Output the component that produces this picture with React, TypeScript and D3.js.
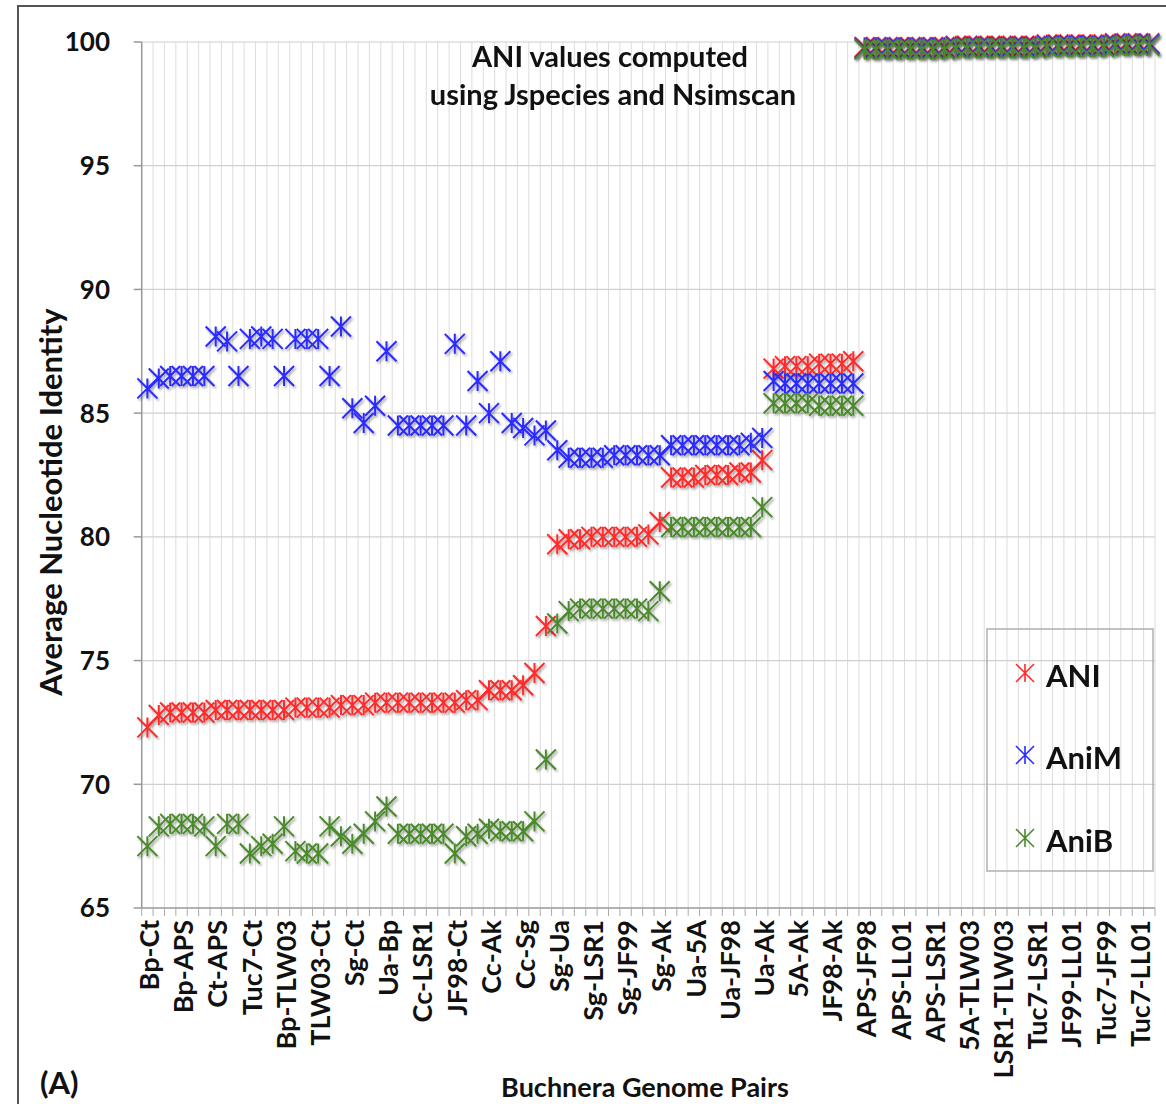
import React from 'react';
import * as d3 from 'd3';

// ---------- data ----------
const tickLabels = [
  'Bp-Ct', 'Bp-APS', 'Ct-APS', 'Tuc7-Ct', 'Bp-TLW03', 'TLW03-Ct', 'Sg-Ct', 'Ua-Bp',
  'Cc-LSR1', 'JF98-Ct', 'Cc-Ak', 'Cc-Sg', 'Sg-Ua', 'Sg-LSR1', 'Sg-JF99', 'Sg-Ak',
  'Ua-5A', 'Ua-JF98', 'Ua-Ak', '5A-Ak', 'JF98-Ak', 'APS-JF98', 'APS-LL01', 'APS-LSR1',
  '5A-TLW03', 'LSR1-TLW03', 'Tuc7-LSR1', 'JF99-LL01', 'Tuc7-JF99', 'Tuc7-LL01',
];
const labelEvery = 3;

const aniValues = [
  72.3, 72.8, 72.9, 72.9, 72.9, 72.9, 73.0, 73.0, 73.0, 73.0,
  73.0, 73.0, 73.0, 73.1, 73.1, 73.1, 73.1, 73.2, 73.2, 73.2,
  73.3, 73.3, 73.3, 73.3, 73.3, 73.3, 73.3, 73.3, 73.4, 73.4,
  73.8, 73.8, 73.8, 74.0, 74.5, 76.4, 79.7, 79.9, 79.9, 80.0,
  80.0, 80.0, 80.0, 80.0, 80.1, 80.6, 82.4, 82.4, 82.4, 82.5,
  82.5, 82.5, 82.6, 82.6, 83.1, 86.8, 86.9, 86.9, 86.9, 87.0,
  87.0, 87.0, 87.1,
  99.8, 99.8, 99.8, 99.8, 99.8, 99.8, 99.8, 99.8, 99.85, 99.85,
  99.85, 99.85, 99.85, 99.85, 99.85, 99.85, 99.9, 99.9, 99.9, 99.9,
  99.9, 99.9, 99.95, 99.95, 99.95, 99.95,
];

const animValues = [
  86.0, 86.4, 86.5, 86.5, 86.5, 86.5, 88.1, 87.9, 86.5, 88.0,
  88.1, 88.0, 86.5, 88.0, 88.0, 88.0, 86.5, 88.5, 85.2, 84.6,
  85.3, 87.5, 84.5, 84.5, 84.5, 84.5, 84.5, 87.8, 84.5, 86.3,
  85.0, 87.1, 84.6, 84.4, 84.1, 84.3, 83.5, 83.2, 83.2, 83.2,
  83.2, 83.3, 83.3, 83.3, 83.3, 83.3, 83.7, 83.7, 83.7, 83.7,
  83.7, 83.7, 83.7, 83.8, 84.0, 86.3, 86.2, 86.2, 86.2, 86.2,
  86.2, 86.2, 86.2,
  99.75, 99.75, 99.75, 99.75, 99.75, 99.75, 99.75, 99.75, 99.8, 99.8,
  99.8, 99.8, 99.8, 99.8, 99.8, 99.8, 99.85, 99.85, 99.85, 99.85,
  99.85, 99.85, 99.9, 99.9, 99.9, 99.9,
];

const anibValues = [
  67.5, 68.3, 68.4, 68.4, 68.4, 68.3, 67.5, 68.4, 68.4, 67.2,
  67.5, 67.6, 68.3, 67.3, 67.2, 67.2, 68.3, 67.9, 67.6, 68.0,
  68.5, 69.1, 68.0, 68.0, 68.0, 68.0, 68.0, 67.2, 67.9, 68.0,
  68.2, 68.1, 68.1, 68.1, 68.5, 71.0, 76.5, 77.0, 77.1, 77.1,
  77.1, 77.1, 77.1, 77.1, 77.0, 77.8, 80.4, 80.4, 80.4, 80.4,
  80.4, 80.4, 80.4, 80.4, 81.2, 85.4, 85.4, 85.4, 85.4, 85.3,
  85.3, 85.3, 85.3,
  99.7, 99.7, 99.7, 99.7, 99.7, 99.7, 99.7, 99.7, 99.75, 99.75,
  99.75, 99.75, 99.75, 99.75, 99.75, 99.75, 99.8, 99.8, 99.8, 99.8,
  99.8, 99.8, 99.85, 99.85, 99.85, 99.85,
];

const yTicks = [65, 70, 75, 80, 85, 90, 95, 100];
const seriesNames = ['ANI', 'AniM', 'AniB'];
const seriesColors = ['#ff2a2a', '#2a2aff', '#4b8a2c'];

const FONT = 'Lato, "Open Sans", "DejaVu Sans", sans-serif';

function starPath(r: number) {
  const p = d3.path();
  p.moveTo(-r, -r); p.lineTo(r, r);
  p.moveTo(-r, r); p.lineTo(r, -r);
  p.moveTo(0, -r); p.lineTo(0, r);
  return p.toString();
}

export default function App() {
  const W = 1166, H = 1104;
  const n = aniValues.length;
  const plotLeft = 141.7, plotRight = 1155, plotTop = 42, plotBottom = 908;
  const x = d3.scaleBand<number>().domain(d3.range(n)).range([plotLeft, plotRight]).padding(0);
  const y = d3.scaleLinear().domain([65, 100]).range([plotBottom, plotTop]);
  const bw = x.bandwidth();
  const cx = (i: number) => (x(i) as number) + bw / 2;
  const series = [aniValues, animValues, anibValues];
  const marker = starPath(10);
  const legendMarker = starPath(9);
  const boundaries = d3.range(n + 1).map((i) => plotLeft + i * bw);

  return (
    <svg width={W} height={H} style={{ position: 'absolute', left: 0, top: 0, background: '#fff' }}
      fontFamily={FONT} fontWeight={700}>
      <defs>
        <filter id="shadow" x="-10%" y="-10%" width="120%" height="120%">
          <feDropShadow dx="1.5" dy="2" stdDeviation="1.3" floodColor="#000" floodOpacity="0.35" />
        </filter>
      </defs>
      <rect x={0} y={0} width={W} height={H} fill="#fff" />
      {/* outer frame */}
      <rect x={18} y={6} width={W + 20} height={H + 20} fill="none" stroke="#555" strokeWidth={2} />

      {/* vertical grid */}
      {boundaries.map((bx, i) => (
        <line key={'vg' + i} x1={bx} x2={bx} y1={plotTop} y2={plotBottom} stroke="#dcdcdc" strokeWidth={1} />
      ))}
      {/* horizontal grid */}
      {yTicks.filter((t) => t !== 65).map((t) => (
        <line key={'hg' + t} x1={plotLeft} x2={plotRight} y1={y(t)} y2={y(t)} stroke="#d0d0d0" strokeWidth={1.2} />
      ))}
      {/* axes */}
      <line x1={plotLeft} x2={plotLeft} y1={plotTop} y2={plotBottom} stroke="#999" strokeWidth={1.5} />
      <line x1={plotLeft} x2={plotRight} y1={plotBottom} y2={plotBottom} stroke="#999" strokeWidth={1.5} />
      {yTicks.map((t) => (
        <line key={'yt' + t} x1={plotLeft - 8} x2={plotLeft} y1={y(t)} y2={y(t)} stroke="#999" strokeWidth={1.5} />
      ))}
      {boundaries.map((bx, i) => (
        <line key={'xt' + i} x1={bx} x2={bx} y1={plotBottom} y2={plotBottom + 8} stroke="#aaa" strokeWidth={1} />
      ))}

      {/* y tick labels */}
      {yTicks.map((t) => (
        <text key={'yl' + t} x={110} y={y(t)} dy="0.36em" textAnchor="end" fontSize={26} fill="#111">{t}</text>
      ))}
      {/* x tick labels */}
      {tickLabels.map((lab, k) => {
        const i = k * labelEvery;
        const tx = cx(i) + 2;
        const ty = plotBottom + 12;
        return (
          <text key={'xl' + k} transform={`translate(${tx},${ty}) rotate(-90)`} textAnchor="end" dy="0.36em"
            fontSize={27} fill="#111">{lab}</text>
        );
      })}

      {/* series */}
      {series.map((vals, s) => (
        <g key={'s' + s} filter="url(#shadow)" stroke={seriesColors[s]} strokeWidth={2} fill="none">
          {vals.map((v, i) => (
            <path key={i} d={marker} transform={`translate(${cx(i)},${y(v)})`} />
          ))}
        </g>
      ))}

      {/* in-chart title */}
      <text x={610} y={67} textAnchor="middle" fontSize={29} fill="#111">ANI values computed</text>
      <text x={613} y={105} textAnchor="middle" fontSize={29} fill="#111">using Jspecies and Nsimscan</text>

      {/* legend */}
      <rect x={987} y={629} width={166} height={242} fill="none" stroke="#b0b0b0" strokeWidth={1.5} />
      {seriesNames.map((name, s) => {
        const my = [673, 755, 838][s];
        return (
          <g key={'lg' + s}>
            <path d={legendMarker} transform={`translate(${1025},${my})`} stroke={seriesColors[s]} strokeWidth={1.6} fill="none" />
            <text x={1046} y={my + 14} fontSize={31} fill="#111">{name}</text>
          </g>
        );
      })}

      {/* axis titles */}
      <text transform={`translate(62,502) rotate(-90)`} textAnchor="middle" fontSize={31} fill="#111">Average Nucleotide Identity</text>
      <text x={645} y={1097} textAnchor="middle" fontSize={27} fill="#111">Buchnera Genome Pairs</text>
      <text x={40} y={1094} fontSize={31} fill="#111">(A)</text>
    </svg>
  );
}
